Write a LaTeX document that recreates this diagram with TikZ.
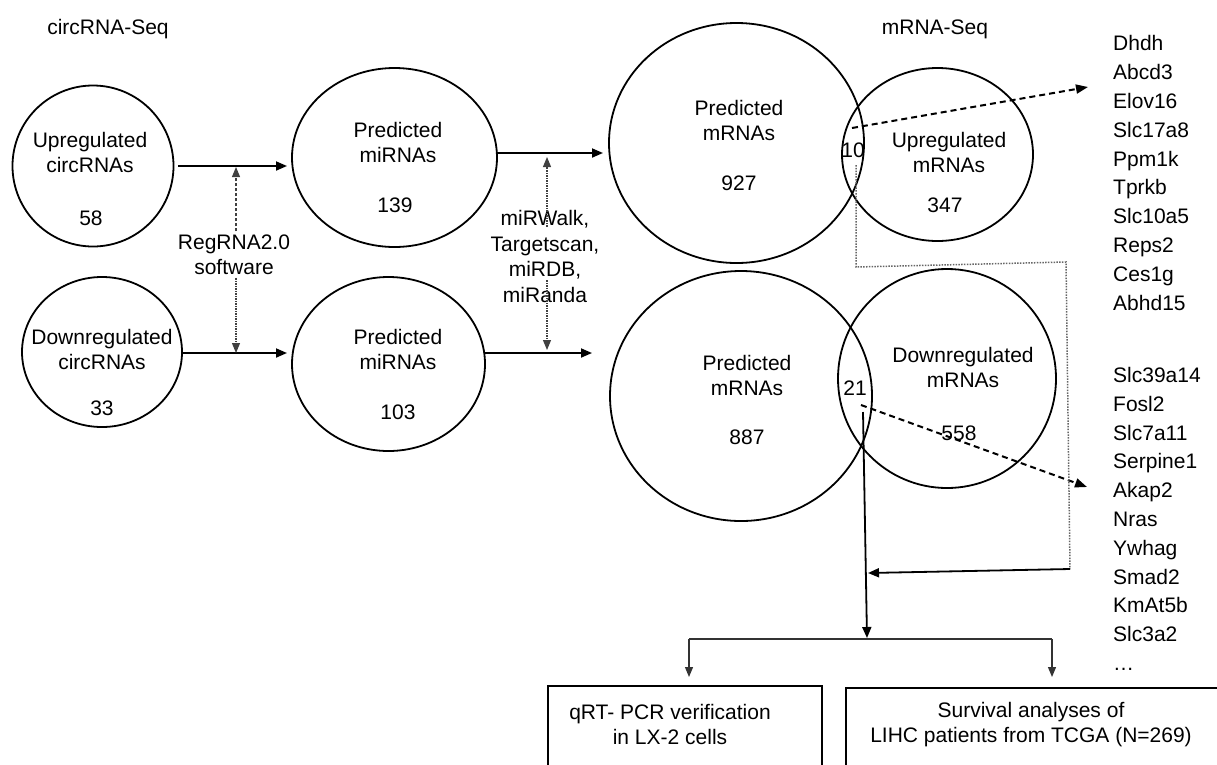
\documentclass[tikz,border=0pt]{standalone}
\usepackage{fontspec}
\setmainfont{Liberation Sans}
\usetikzlibrary{arrows.meta,shapes.geometric}
\begin{document}
\begin{tikzpicture}[x=1pt,y=-1pt,
  font=\fontsize{21}{25}\selectfont,
  ring/.style={draw, line width=1.8pt, ellipse, inner sep=0pt, outer sep=0pt},
  lbl/.style={align=center, inner sep=0pt},
  glist/.style={align=left, inner sep=0pt, anchor=west, font=\fontsize{21}{28.8}\selectfont},
  arr/.style={line width=1.8pt, -{Triangle[length=11pt,width=9pt]}},
  dd/.style={line width=1.1pt, black!75, dash pattern=on 2pt off 1.2pt on 0.6pt off 1.2pt, -{Triangle[length=10pt,width=8pt]}},
  dsh/.style={line width=2pt, dash pattern=on 6pt off 4pt, -{Triangle[length=12pt,width=9pt]}},
  gdot/.style={line width=1.5pt, black!60, dash pattern=on 1.5pt off 1.3pt},
  thinl/.style={line width=1.2pt, black!80},
  tarr/.style={thinl, -{Triangle[length=10pt,width=8pt]}},
  boxs/.style={draw, line width=1.8pt, inner sep=0pt, anchor=north west}]

\path[use as bounding box, clip] (0,0) rectangle (1217,764);

% titles
\node[anchor=base, inner sep=0pt] (t1) at (108,34.5) {circRNA-Seq};
\node[anchor=base, inner sep=0pt] (t2) at (935,34.5) {mRNA-Seq};

% circles
\node[ring, minimum width=161, minimum height=161] (uc) at (93,166) {};
\node[ring, minimum width=160, minimum height=150] (dc) at (102,352) {};
\node[ring, minimum width=205, minimum height=179] (pm1) at (394.5,157.5) {};
\node[ring, minimum width=193, minimum height=174] (pm2) at (388.5,364) {};
\node[ring, minimum width=255, minimum height=240] (pr1) at (736.5,143) {};
\node[ring, minimum width=191, minimum height=173] (um) at (937.5,154.5) {};
\node[ring, minimum width=262, minimum height=250] (pr2) at (741,396) {};
\node[ring, minimum width=218, minimum height=219] (dm) at (947,378.5) {};

% circle labels
\node[lbl] (luc) at (90,152.5) {Upregulated\\circRNAs};
\node[lbl] (nuc) at (91,218) {58};
\node[lbl] (ldc) at (102,349.5) {Downregulated\\circRNAs};
\node[lbl] (ndc) at (102,408) {33};
\node[lbl] (lpm1) at (398,142.5) {Predicted\\miRNAs};
\node[lbl] (npm1) at (395,205) {139};
\node[lbl] (lpm2) at (398,349.5) {Predicted\\miRNAs};
\node[lbl] (npm2) at (398,412) {103};
\node[lbl] (lpr1) at (739,120.5) {Predicted\\mRNAs};
\node[lbl] (npr1) at (739,183) {927};
\node[lbl] (lum) at (949,152.5) {Upregulated\\mRNAs};
\node[lbl] (num) at (945,205) {347};
\node[lbl] (lpr2) at (747,375.5) {Predicted\\mRNAs};
\node[lbl] (npr2) at (747,437) {887};
\node[lbl] (ldm) at (963,367.5) {Downregulated\\mRNAs};
\node[lbl] (ndm) at (959,433) {558};
\node[lbl] (n10) at (853,150) {10};
\node[lbl] (n21) at (855,388) {21};

% tool labels
\node[lbl, inner sep=3pt] (reg) at (234,254.5) {RegRNA2.0\\software};
\node[lbl, font=\fontsize{21}{25.7}\selectfont] (mir) at (545,256.5) {miRWalk,\\Targetscan,\\miRDB,\\miRanda};

% main arrows
\coordinate (a1s) at (178,166); \coordinate (a1e) at (287,166);
\coordinate (a2s) at (182,353); \coordinate (a2e) at (287,353);
\coordinate (a3s) at (497,153); \coordinate (a3e) at (603,153);
\coordinate (a4s) at (485,353); \coordinate (a4e) at (592,353);
\draw[arr] (a1s) -- (a1e);
\draw[arr] (a2s) -- (a2e);
\draw[arr] (a3s) -- (a3e);
\draw[arr] (a4s) -- (a4e);

% dotted double arrows
\coordinate (r1t) at (236,167); \coordinate (r1b) at (236,353);
\draw[dd] (reg.north -| r1t) -- (r1t);
\draw[dd] (reg.south -| r1b) -- (r1b);
\coordinate (m1a) at (547,227); \coordinate (m1t) at (547,157);
\coordinate (m1b) at (547,280); \coordinate (m1d) at (547,350);
\draw[dd] (m1a) -- (m1t);
\draw[dd] (m1b) -- (m1d);

% gene lists
\node[glist] (up) at (1113,173) {Dhdh\\Abcd3\\Elov16\\Slc17a8\\Ppm1k\\Tprkb\\Slc10a5\\Reps2\\Ces1g\\Abhd15};
\node[glist] (down) at (1113,504.6) {Slc39a14\\Fosl2\\Slc7a11\\Serpine1\\Akap2\\Nras\\Ywhag\\Smad2\\KmAt5b\\Slc3a2};
\node[anchor=base west, inner sep=0pt] (more) at (1113,670) {…};

% dashed arrows to lists
\coordinate (d1s) at (852,128); \coordinate (d1e) at (1088,87);
\coordinate (d2s) at (861,405); \coordinate (d2e) at (1087,487);
\draw[dsh] (d1s) -- (d1e);
\draw[dsh] (d2s) -- (d2e);

% grey dotted route from the up-intersection
\coordinate (g1) at (856,165); \coordinate (g2) at (856,267);
\coordinate (g3) at (1066,262); \coordinate (g4) at (1070,569);
\draw[gdot] (g1) -- (g2) -- (g3) -- (g4);
\coordinate (sE) at (868,573);
\draw[arr] (g4) -- (sE);

% vertical from down-intersection
\coordinate (v1) at (863,412); \coordinate (v2) at (867,638);
\draw[arr] (v1) -- (v2);

% distribution
\coordinate (h1) at (689,639); \coordinate (h2) at (1052,639);
\coordinate (h1d) at (689,677); \coordinate (h2d) at (1052,677);
\draw[thinl] (h1) -- (h2);
\draw[tarr] (h1) -- (h1d);
\draw[tarr] (h2) -- (h2d);

% bottom boxes
\node[boxs, minimum width=274, minimum height=120] (b1) at (547,685) {};
\node[boxs, minimum width=415, minimum height=120] (b2) at (845,687) {};
\node[lbl] (tb1) at (670,724.5) {qRT- PCR verification\\in LX-2 cells};
\node[lbl] (tb2) at (1031,724.5) {Survival analyses of\\LIHC patients from TCGA (N=269)};
\end{tikzpicture}
\end{document}
